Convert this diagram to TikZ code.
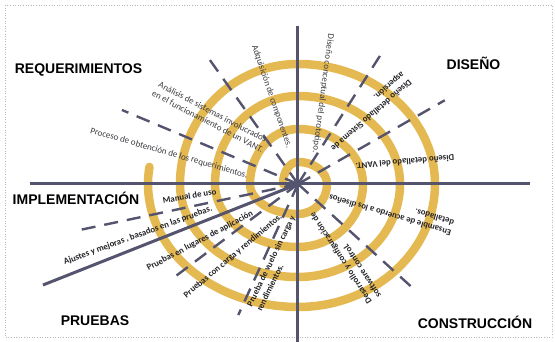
\documentclass[tikz,border=0pt]{standalone}
\usepackage{fontspec}
\setmainfont{Carlito}
\newfontfamily\headfont{Liberation Sans}
\usepackage{tikz}

\definecolor{gold}{RGB}{229,185,82}
\definecolor{slate}{RGB}{84,84,110}
\definecolor{ink}{RGB}{35,35,40}
\definecolor{inklight}{RGB}{60,60,66}

\tikzset{
  spiral/.style={draw=gold, line width=8.5pt, line cap=round},
  axis/.style={draw=slate, line width=3pt},
  ray/.style={draw=slate, line width=2.4pt, dash pattern=on 14pt off 9pt},
  phase/.style={font=\headfont\bfseries\fontsize{14}{14}\selectfont, text=black},
  note/.style={font=\fontsize{9}{10.8}\selectfont, text=inklight, inner sep=0pt},
  boldnote/.style={note, font=\fontsize{8.8}{10.8}\selectfont\bfseries, text=ink}
}

\begin{document}
\begin{tikzpicture}[x=1pt, y=1pt]
\useasboundingbox (-298,-158) rectangle (257,184);
\draw[dotted, gray!55, line width=0.6pt] (-293,179) rectangle (254,-153);

\coordinate (o) at (0,0);

% spiral
\draw[spiral] (-15,0)
  \foreach \s/\e/\rx/\ry in {180/90/15/22, 90/0/29/22, 0/-90/29/30, -90/-180/48/30,
    180/90/48/55, 90/0/65/55, 0/-90/65/63, -90/-180/83/63,
    180/90/83/88, 90/0/102/88, 0/-90/102/93, -90/-180/118/93,
    180/90/118/120, 90/0/137/120, 0/-90/137/123, -90/-188/150/123}
  {arc[start angle=\s, end angle=\e, x radius=\rx, y radius=\ry]};

% dashed rays
\coordinate (r1) at (29.7:169);
\coordinate (r2) at (57.4:155);
\coordinate (r3) at (125.4:161);
\coordinate (r4) at (157.2:191);
\coordinate (r5) at (191.9:223);
\coordinate (r6) at (217:154);
\coordinate (r7) at (245.5:144);
\coordinate (r8) at (-42.2:160);
\foreach \r in {r1,r2,r3,r4,r5,r6,r7,r8}
  \draw[ray] (o) -- (\r);

% axes
\coordinate (top) at (0,158);
\coordinate (bottom) at (0,-158);
\coordinate (left) at (-268,0);
\coordinate (right) at (232,0);
\coordinate (diag) at (-255,-101);
\draw[axis] (top) -- (bottom);
\draw[axis] (left) -- (right);
\draw[axis] (o) -- (diag);

% phases
\node[phase] (req) at (-219.5,114) {REQUERIMIENTOS};
\node[phase] (dis) at (175.5,121) {DISEÑO};
\node[phase] (imp) at (-222,-14) {IMPLEMENTACIÓN};
\node[phase] (pru) at (-203,-137) {PRUEBAS};
\node[phase] (con) at (177,-138) {CONSTRUCCIÓN};

% activities
\node[note, rotate=-27.5, align=center] (analisis) at (-87.75,67.25)
  {Análisis de sistemas involucrados\\en el funcionamiento de un VANT.};
\node[note, rotate=-16] (proceso) at (-129,30.7)
  {Proceso de obtención de los requerimientos.};
\node[note, rotate=-71] (adquis) at (-26.3,87.3) {Adquisición de componentes.};
\node[note, rotate=-97.4] (concep) at (25,90.5) {Diseño conceptual del prototipo.};
\node[boldnote, rotate=-139, align=left] (sistema) at (69.6,73)
  {Diseño detallado Sistema de\\aspersión.};
\node[boldnote, rotate=185] (vant) at (107,22) {Diseño detallado del VANT.};
\node[boldnote, rotate=163.5, align=left] (ensamble) at (93.6,-26.2)
  {Ensamble de acuerdo a los diseños\\detallados.};
\node[boldnote, rotate=123, align=left] (software) at (47.2,-71.4)
  {Desarrollo y configuración de\\software control.};
\node[boldnote, rotate=64, align=left] (vuelo) at (-22.3,-79.5)
  {Prueba de vuelo sin carga y\\rendimientos.};
\node[boldnote, rotate=40] (carga) at (-65,-72) {Pruebas con carga y rendimientos.};
\node[boldnote, rotate=28] (lugares) at (-98,-57) {Pruebas en lugares de aplicación};
\node[boldnote, rotate=20] (ajustes) at (-160,-51.5) {Ajustes y mejoras , basados en las pruebas.};
\node[boldnote, rotate=10] (manual) at (-108.5,-12) {Manual de uso};

\end{tikzpicture}
\end{document}
